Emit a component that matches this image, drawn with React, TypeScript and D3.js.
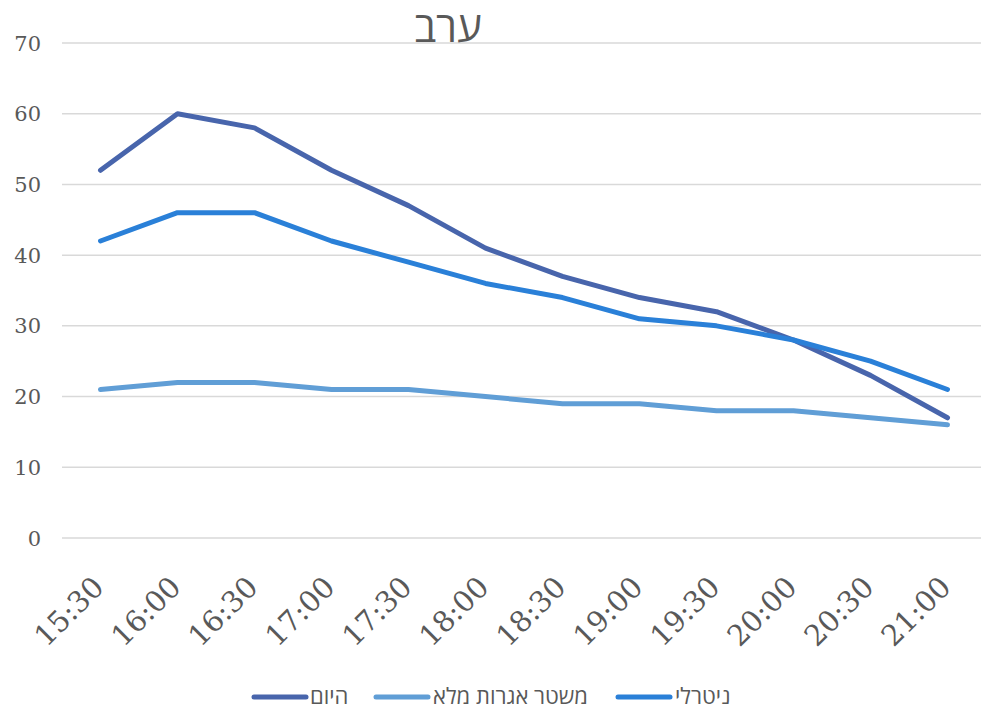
import React from "react";
import * as d3 from "d3";

const categories = ["15:30", "16:00", "16:30", "17:00", "17:30", "18:00", "18:30", "19:00", "19:30", "20:00", "20:30", "21:00"];
const seriesToday = [52, 60, 58, 52, 47, 41, 37, 34, 32, 28, 23, 17];
const seriesFull = [21, 22, 22, 21, 21, 20, 19, 19, 18, 18, 17, 16];
const seriesNeutral = [42, 46, 46, 42, 39, 36, 34, 31, 30, 28, 25, 21];
const yTicks = [0, 10, 20, 30, 40, 50, 60, 70];
const seriesNames = ["היום", "משטר אגרות מלא", "ניטרלי"];
const colors = ["#4865AC", "#609ED6", "#2A80D8"];
const title = "ערב";

export default function App() {
  const W = 982, H = 707;
  const x = d3.scaleBand<string>().domain(categories).range([62, 986]);
  const y = d3.scaleLinear().domain([0, 70]).range([538, 43]);
  const line = d3.line<number>()
    .x((_, i) => (x(categories[i]) as number) + x.bandwidth() / 2)
    .y((d) => y(d));
  const all = [seriesToday, seriesFull, seriesNeutral];
  const legendPos = [
    { lx: 254, tx: 310 },
    { lx: 376, tx: 433 },
    { lx: 618, tx: 675 },
  ];
  const serif = "'DejaVu Serif', serif";
  const sans = "'Open Sans', 'DejaVu Sans', sans-serif";
  return (
    <svg width={W} height={H} style={{ position: "absolute", left: 0, top: 0, background: "#fff" }}>
      <rect width={W} height={H} fill="#fff" />
      {yTicks.map((t) => (
        <g key={t}>
          <line x1={62} x2={981} y1={y(t)} y2={y(t)} stroke="#d9d9d9" strokeWidth={1.5} />
          <text x={41} y={y(t)} dy="0.36em" textAnchor="end" fontFamily={serif} fontSize={21} fill="#595959">{t}</text>
        </g>
      ))}
      {all.map((s, i) => (
        <path key={i} d={line(s) || ""} fill="none" stroke={colors[i]} strokeWidth={5} strokeLinecap="round" strokeLinejoin="round" />
      ))}
      {categories.map((c) => {
        const cx = (x(c) as number) + x.bandwidth() / 2;
        return (
          <text key={c} transform={`translate(${cx + 5},${589}) rotate(-45)`} textAnchor="end" fontFamily={serif} fontSize={29} fill="#595959">{c}</text>
        );
      })}
      <text x={448} y={42} textAnchor="middle" fontFamily={sans} fontSize={42} fill="#595959">{title}</text>
      {seriesNames.map((n, i) => (
        <g key={n}>
          <line x1={legendPos[i].lx} x2={legendPos[i].lx + 52} y1={697} y2={697} stroke={colors[i]} strokeWidth={5} strokeLinecap="round" />
          <text x={legendPos[i].tx} y={696} dy="0.35em" fontFamily={sans} fontSize={22} fill="#595959">{n}</text>
        </g>
      ))}
    </svg>
  );
}
